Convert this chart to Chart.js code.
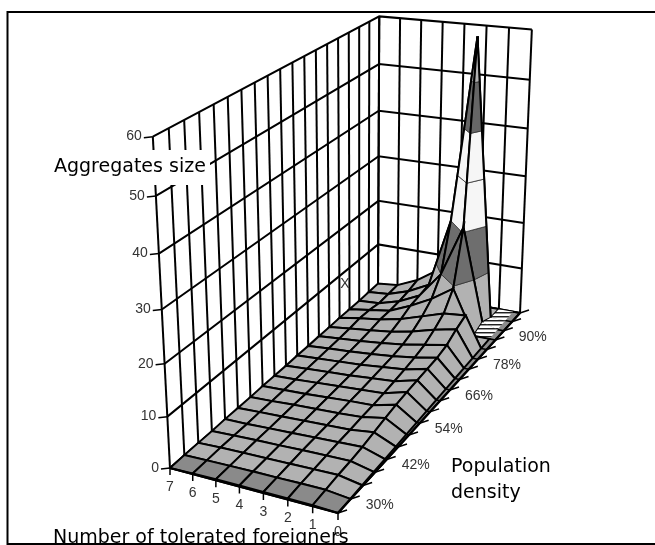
<!DOCTYPE html>
<html>
<head>
<meta charset="utf-8">
<style>html,body{margin:0;padding:0;background:#fff}canvas{display:block}</style>
<script src="https://cdn.jsdelivr.net/npm/chart.js@4"></script>
</head>
<body>
<canvas id="surface" width="655" height="545"></canvas>
<script>
const foreigners = [0, 1, 2, 3, 4, 5, 6, 7];
const densities = [26, 30, 34, 38, 42, 46, 50, 54, 58, 62, 66, 70, 74, 78, 82, 86, 90, 94, 98];
const densityLabels = [30, 42, 54, 66, 78, 90];
const sizeTicks = [0, 10, 20, 30, 40, 50, 60];

// aggregate size for foreigners 0..7, one list per density
const size26 = [0, 0.2, 0.2, 0.2, 0.2, 0.2, 0.1, 0];
const size30 = [0, 0.5, 0.5, 0.4, 0.4, 0.3, 0.2, 0.1];
const size34 = [0, 0.8, 0.7, 0.6, 0.5, 0.4, 0.3, 0.1];
const size38 = [0, 1.0, 0.9, 0.8, 0.6, 0.5, 0.3, 0.1];
const size42 = [0, 1.3, 1.1, 0.9, 0.7, 0.5, 0.3, 0.2];
const size46 = [0, 1.8, 1.2, 1.0, 0.8, 0.6, 0.4, 0.2];
const size50 = [0, 2.3, 1.4, 1.1, 0.9, 0.7, 0.4, 0.2];
const size54 = [0, 2.7, 1.5, 1.3, 1.0, 0.7, 0.5, 0.3];
const size58 = [0, 3.0, 1.7, 1.4, 1.1, 0.8, 0.5, 0.3];
const size62 = [0, 3.2, 2.0, 1.6, 1.2, 0.9, 0.6, 0.3];
const size66 = [0, 3.4, 2.3, 1.8, 1.3, 1.0, 0.7, 0.4];
const size70 = [0, 3.6, 2.7, 2.0, 1.5, 1.1, 0.8, 0.4];
const size74 = [0, 4.2, 3.3, 2.4, 1.8, 1.3, 0.9, 0.5];
const size78 = [0, 5.5, 4.5, 3.2, 2.2, 1.6, 1.1, 0.5];
const size82 = [0, 6.5, 6.0, 4.5, 3.0, 2.0, 1.4, 0.6];
const size86 = [0, 0, 9.5, 6.4, 4.0, 2.0, 1.3, 0.6];
const size90 = [0, 1.0, 21, 10, 4.4, 2.2, 0.9, 0.6];
const size94 = [0, 0, 59, 20, 4.9, 2.6, 1.1, 0.7];
const size98 = [0, 0, 0, 5, 6.4, 3.3, 1.3, 0.8];
const sizes = [size26, size30, size34, size38, size42, size46, size50, size54, size58, size62,
  size66, size70, size74, size78, size82, size86, size90, size94, size98];

const bandLimits = [0, 10, 20, 30, 40, 50, 60];
const bandColors = ['#b2b2b2', '#6e6e6e', '#f6f6f6', '#f6f6f6', '#666666', '#b4b4b4'];

// the camera: where the corners of the plot box land on the page
const floorCorners = [[170, 468], [338, 513], [520, 313], [378, 287]];
const topLeftFront = [153, 138], topLeftBack = [379, 13], topRightBack = [532, 32];

const [[x0, y0], [x1, y1], [x2, y2], [x3, y3]] = floorCorners;
const den = (x1 - x2) * (y3 - y2) - (x3 - x2) * (y1 - y2);
const sx = x0 - x1 + x2 - x3, sy = y0 - y1 + y2 - y3;
const g = (sx * (y3 - y2) - (x3 - x2) * sy) / den;
const h = ((x1 - x2) * sy - sx * (y1 - y2)) / den;
const a = x1 - x0 + g * x1, b = x3 - x0 + h * x3;
const d = y1 - y0 + g * y1, e = y3 - y0 + h * y3;

const W2 = g + h + 1, W3 = h + 1;
const rx0 = topLeftFront[0] - x0;
const rx3 = topLeftBack[0] * W3 - (b + x0);
const rx2 = topRightBack[0] * W2 - (a + b + x0);
const C = (rx0 - rx2) / (topRightBack[0] - topLeftFront[0]);
const A = (rx0 + topLeftFront[0] * C + rx3 + topLeftBack[0] * C + rx2 + topRightBack[0] * C) / 3;
const B = (topLeftFront[1] * (1 + C) - y0
  + topLeftBack[1] * (W3 + C) - (e + y0)
  + topRightBack[1] * (W2 + C) - (d + e + y0)) / 3;

function project(f, density, size) {
  const u = (7 - f) / 7, v = (density - 26) / 72, t = size / 60;
  const w = g * u + h * v + 1 + C * t;
  return { x: (a * u + b * v + x0 + A * t) / w, y: (d * u + e * v + y0 + B * t) / w };
}
// the surface stops a little short of the axis edge towards the back
const surfaceF = (f, density) => (f === 0 ? 0.33 * (density - 26) / 72 : f);

const datasets = [];
function addLine(points, color, width) {
  datasets.push({ data: points, showLine: true, fill: false, borderColor: color, borderWidth: width,
    pointRadius: 0, tension: 0 });
}
function addShape(points, color, edge, width) {
  const loop = points.concat([points[0]]);
  datasets.push({ data: loop, showLine: true, fill: 'shape', backgroundColor: color, borderColor: edge,
    borderWidth: width, pointRadius: 0, tension: 0 });
}

// left wall and back wall
for (const dn of densities) addLine([project(7, dn, 0), project(7, dn, 60)], '#000', 2);
for (const f of foreigners) addLine([project(f, 98, 0), project(f, 98, 60)], '#000', 2);
for (const s of sizeTicks) {
  addLine([project(7, 26, s), project(7, 98, s), project(0, 98, s)], '#000', 2);
}

// clip a cell to one height band
function clipBand(corners, lo, hi) {
  const cut = (poly, keep, limit) => {
    const out = [];
    poly.forEach((p, i) => {
      const q = poly[(i + 1) % poly.length];
      if (keep(p[2])) out.push(p);
      if (keep(p[2]) !== keep(q[2])) {
        const t = (limit - p[2]) / (q[2] - p[2]);
        out.push([p[0] + (q[0] - p[0]) * t, p[1] + (q[1] - p[1]) * t, limit]);
      }
    });
    return out;
  };
  return cut(cut(corners, s => s >= lo, lo), s => s <= hi, hi);
}

const hatchCanvas = document.createElement('canvas');
hatchCanvas.width = 4; hatchCanvas.height = 4;
const hatchCtx = hatchCanvas.getContext('2d');
hatchCtx.fillStyle = '#fff'; hatchCtx.fillRect(0, 0, 4, 4);
hatchCtx.fillStyle = '#222'; hatchCtx.fillRect(0, 0, 4, 1);
hatchCtx.fillStyle = '#999'; hatchCtx.fillRect(0, 1, 4, 1);
const hatch = hatchCtx.createPattern(hatchCanvas, 'repeat');

// gray skirt under the surface, seen as a strip along the axis edge
addShape([project(7, 26, 0), project(0, 26, 0), project(0, 98, 0), project(7, 98, 0)], '#8c8c8c', '#000', 2);
for (const dn of densities) addLine([project(surfaceF(0, dn), dn, 0), project(0, dn, 0)], '#000', 1.6);

// surface, far cells first
for (let j = densities.length - 2; j >= 0; j--) {
  for (let i = foreigners.length - 2; i >= 0; i--) {
    const dn0 = densities[j], dn1 = densities[j + 1];
    const corners = [[surfaceF(i, dn0), dn0, sizes[j][i]], [i + 1, dn0, sizes[j][i + 1]],
      [i + 1, dn1, sizes[j + 1][i + 1]], [surfaceF(i, dn1), dn1, sizes[j + 1][i]]];
    const outline = corners.map(c => project(c[0], c[1], c[2]));
    if (i === 0 && dn0 >= 86) {
      addShape(outline, hatch, 'rgba(0,0,0,0)', 0);
      continue;
    }
    if (j === 0) {
      addShape(outline, '#8a8a8a', '#000', 2);
      continue;
    }
    bandColors.forEach((color, k) => {
      const part = clipBand(corners, bandLimits[k], bandLimits[k + 1]);
      if (part.length > 2) addShape(part.map(c => project(c[0], c[1], c[2])), color, '#333', 0.8);
    });
    addLine(outline.concat([outline[0]]), '#000', 2);
  }
}

// axis ticks
const shift = (p, dx, dy) => ({ x: p.x + dx, y: p.y + dy });
for (const s of sizeTicks) addLine([project(7, 26, s), shift(project(7, 26, s), -9, 1)], '#000', 1.5);
for (const f of foreigners) addLine([project(f, 26, 0), shift(project(f, 26, 0), 0, 7)], '#000', 1.5);
for (const dn of densities) addLine([project(0, dn, 0), shift(project(0, dn, 0), 9, -3)], '#000', 1.5);
addLine([project(7, 26, 0), project(0, 26, 0), project(0, 98, 0)], '#000', 2.2);

datasets.forEach((ds, i) => { ds.order = datasets.length - i; });

const textPlugin = {
  id: 'textPlugin',
  afterDatasetsDraw(chart) {
    const { ctx, scales } = chart;
    const put = (str, p, align) => {
      ctx.textAlign = align;
      ctx.fillText(str, scales.x.getPixelForValue(p.x), scales.y.getPixelForValue(p.y));
    };
    ctx.save();
    ctx.textBaseline = 'middle';
    ctx.fillStyle = '#fff';
    ctx.fillRect(54, 150, 156, 35);
    ctx.fillStyle = '#333';
    ctx.font = '14px "Liberation Sans"';
    for (const s of sizeTicks) put(String(s), shift(project(7, 26, s), -11, 0), 'right');
    for (const f of foreigners) put(String(f), shift(project(f, 26, 0), 0, 19), 'center');
    for (const dn of densityLabels) put(dn + '%', shift(project(0, dn, 0), 29, 6), 'center');
    put('X', { x: 345, y: 284 }, 'center');
    ctx.fillStyle = '#000';
    ctx.font = '19px "DejaVu Sans"';
    put('Aggregates size', { x: 54, y: 167 }, 'left');
    put('Population', { x: 451, y: 467 }, 'left');
    put('density', { x: 451, y: 493 }, 'left');
    put('Number of tolerated foreigners', { x: 53, y: 538 }, 'left');
    // frame
    ctx.strokeStyle = '#000';
    ctx.lineWidth = 2;
    ctx.beginPath();
    ctx.moveTo(655, 12); ctx.lineTo(7.5, 12); ctx.lineTo(7.5, 544); ctx.lineTo(655, 544);
    ctx.stroke();
    ctx.restore();
  }
};

new Chart(document.getElementById('surface'), {
  type: 'scatter',
  data: { datasets },
  plugins: [textPlugin],
  options: {
    responsive: false,
    animation: false,
    layout: { padding: 0 },
    scales: {
      x: { type: 'linear', min: 0, max: 655, display: false },
      y: { type: 'linear', min: 0, max: 545, reverse: true, display: false }
    },
    plugins: { legend: { display: false }, tooltip: { enabled: false } }
  }
});
</script>
</body>
</html>
